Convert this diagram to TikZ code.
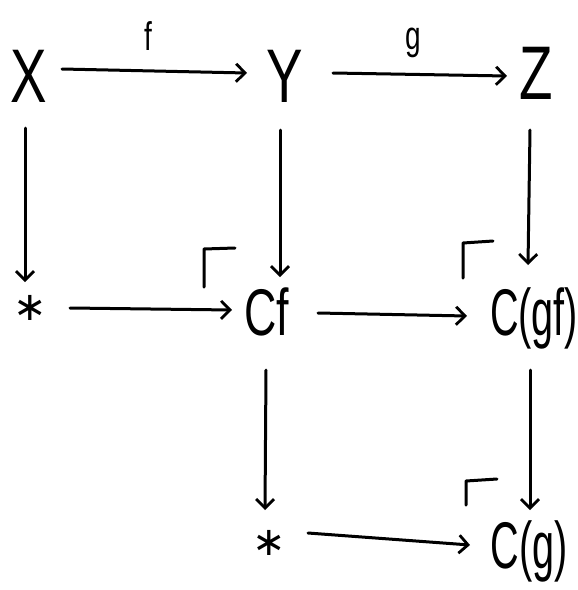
\documentclass[tikz,border=0pt]{standalone}
\usepackage{fontspec}
\setmainfont{Liberation Sans}
\newfontfamily\djfont{DejaVu Sans}
\usetikzlibrary{arrows.meta}
\begin{document}
\begin{tikzpicture}[x=1pt,y=-1pt,
  big/.style={font=\fontsize{76}{76}\selectfont, inner sep=0pt, anchor=base, xscale=0.72},
  mid/.style={font=\fontsize{66}{66}\selectfont, inner sep=0pt, anchor=base, xscale=0.6},
  star/.style={font=\djfont\fontsize{40}{40}\selectfont, inner sep=0pt},
  lab/.style={font=\fontsize{40}{40}\selectfont, inner sep=0pt, xscale=0.7},
  arr/.style={line width=3pt, line cap=round, -{Straight Barb[length=9pt,width=18pt,line width=2.8pt]}},
  corner/.style={line width=3pt, line cap=round, line join=round}]
\useasboundingbox (0,0) rectangle (578,590);
\node[big] (X) at (29,102) {X};
\node[big] (Y) at (285,102) {Y};
\node[big] (Z) at (536,99) {Z};
\node[star] (s1) at (30,308) {∗};
\node[mid, xscale=1.13] (Cf) at (267,335) {Cf};
\node[mid] (Cgf) at (534,335) {C(gf)};
\node[star] (s2) at (269,543) {∗};
\node[mid] (Cg) at (529,568) {C(g)};
\node[lab] (f) at (148,36) {f};
\node[lab] (g) at (413,43) {g};
% horizontal arrows
\draw[arr] ([shift={(33,-33)}]X.base) -- ([shift={(-38,-29)}]Y.base);
\draw[arr] ([shift={(48,-29)}]Y.base) -- ([shift={(-29,-23)}]Z.base);
\draw[arr] ([shift={(40,0)}]s1.center) -- ([shift={(-35,-25)}]Cf.base);
\draw[arr] ([shift={(51,-22)}]Cf.base) -- ([shift={(-67,-19)}]Cgf.base);
\draw[arr] ([shift={(39,-10)}]s2.center) -- ([shift={(-59,-23)}]Cg.base);
% vertical arrows
\draw[arr] ([shift={(-4,26)}]X.base) -- ([shift={(-5,-26)}]s1.center);
\draw[arr] ([shift={(-5,28)}]Y.base) -- ([shift={(13,-58)}]Cf.base);
\draw[arr] ([shift={(-6,31)}]Z.base) -- ([shift={(-6,-70)}]Cgf.base);
\draw[arr] ([shift={(-1,35)}]Cf.base) -- ([shift={(-4,-33)}]s2.center);
\draw[arr] ([shift={(-4,35)}]Cgf.base) -- ([shift={(1,-58)}]Cg.base);
% corner marks
\draw[corner] (204,287) -- (204,249) -- (235,248);
\draw[corner] (463,278) -- (463,243) -- (493,241);
\draw[corner] (466,505) -- (466,481) -- (497,479);
\end{tikzpicture}
\end{document}
